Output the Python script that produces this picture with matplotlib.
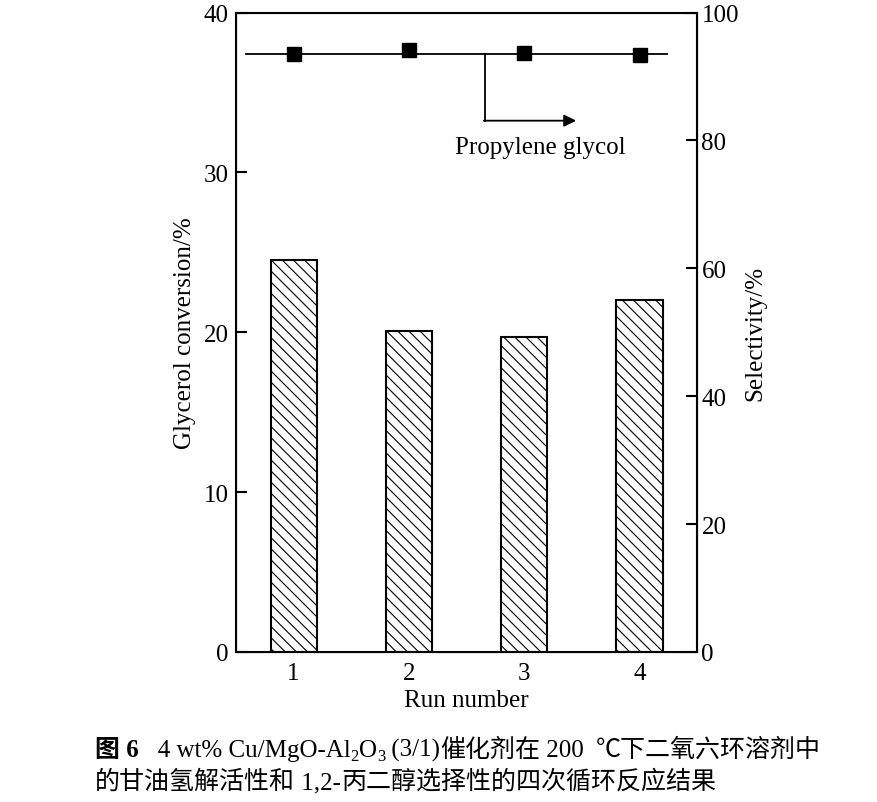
import matplotlib
matplotlib.use("Agg")
import matplotlib.pyplot as plt

runs = [1, 2, 3, 4]
conversion = [24.5, 20.1, 19.7, 22.0]
selectivity = [93.6, 94.2, 93.7, 93.3]
sel_level = 93.6
left_ticks = [0, 10, 20, 30, 40]
right_ticks = [0, 20, 40, 60, 80, 100]

FAM = ['Liberation Serif', 'Noto Sans CJK SC', 'DejaVu Serif']
plt.rcParams['font.family'] = FAM
plt.rcParams['hatch.linewidth'] = 0.8
plt.rcParams['hatch.color'] = '#666666'

fig = plt.figure(figsize=(8.77, 8.03), dpi=100)
ax = fig.add_axes([0.269, 0.187, 0.526, 0.796])
ax.bar(runs, conversion, width=0.4, facecolor='white', edgecolor='black',
       linewidth=1.5, hatch='\\\\\\', zorder=2)
ax.set_xlim(0.5, 4.5)
ax.set_ylim(0, 40)
ax.set_yticks(left_ticks)
ax.set_xticks(runs)
ax.tick_params(axis='y', direction='in', length=8, width=1.5, labelsize=18, pad=5)
ax.tick_params(axis='x', length=0, labelsize=18, pad=7)
ax.set_xlabel('Run number', fontsize=18, labelpad=4)
ax.set_ylabel('Glycerol conversion/%', fontsize=18, labelpad=6)
for s in ax.spines.values():
    s.set_linewidth(1.5)

ax2 = ax.twinx()
ax2.set_ylim(0, 100)
ax2.set_yticks(right_ticks)
ax2.tick_params(axis='y', direction='in', length=8, width=1.5, labelsize=18, pad=3)
ax2.set_ylabel('Selectivity/%', fontsize=18, labelpad=4)
ax2.plot([0.59, 4.24], [sel_level, sel_level], color='black', lw=1.3, zorder=3)
ax2.plot(runs, selectivity, 's', color='black', ms=9.5, zorder=4)
ax2.plot([2.66, 2.66], [sel_level, 83.1], color='black', lw=1.3)
ax2.annotate('', xy=(3.45, 83.1), xytext=(2.65, 83.1),
             arrowprops=dict(arrowstyle='-|>', color='black', lw=1.3,
                             mutation_scale=18, shrinkA=0, shrinkB=0))
ax2.text(3.14, 79.0, 'Propylene glycol', fontsize=18, ha='center', va='center')

renderer = fig.canvas.get_renderer()
W = fig.bbox.width
H = fig.bbox.height


def place(parts, x0, y0):
    x = x0
    for s, size, weight, dy in parts:
        t = fig.text(x, y0 + dy / H, s, fontsize=size, fontweight=weight,
                     va='baseline', ha='left', family=FAM)
        bb = t.get_window_extent(renderer)
        x += bb.width / W


FS = 18
SUB = 12
line1 = [
    ('图 6', FS, 'bold', 0),
    ('   4 wt% Cu/MgO-Al', FS, 'normal', 0),
    ('2', SUB, 'normal', -4),
    ('O', FS, 'normal', 0),
    ('3', SUB, 'normal', -4),
    (' (3/1)', FS, 'normal', 0),
    ('催化剂在', FS, 'normal', 0),
    (' 200  ', FS, 'normal', 0),
    ('℃下二氧六环溶剂中', FS, 'normal', 0),
]
line2 = [
    ('的甘油氢解活性和', FS, 'normal', 0),
    (' 1,2-', FS, 'normal', 0),
    ('丙二醇选择性的四次循环反应结果', FS, 'normal', 0),
]
place(line1, 95 / W, (803 - 757) / H)
place(line2, 95 / W, (803 - 789) / H)

fig.savefig('out.png', dpi=100)
